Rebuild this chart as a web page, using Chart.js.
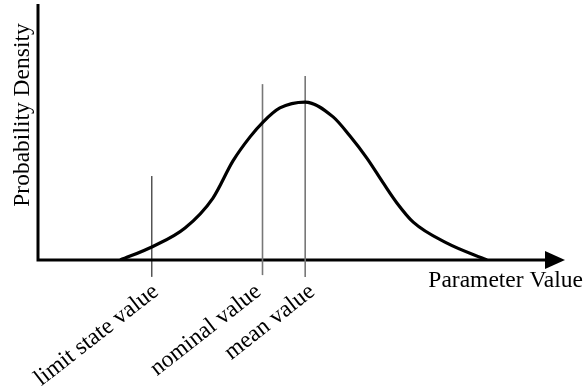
<!DOCTYPE html>
<html lang="en">
<head>
    <meta charset="UTF-8">
    <title>Probability Density</title>
    <script src="https://cdn.jsdelivr.net/npm/chart.js"></script>
</head>
<body style="margin:0;background:white;">
    <div style="width:587px;height:387px;position:relative;">
        <canvas id="chart_pdf"></canvas>
    </div>

    <script>
        // curve (parameter value, density), both on 0..100
        const curveX = [15.6, 21.6, 27.9, 33.2, 37.0, 40.2, 42.7, 45.9, 50.7, 56.0, 59.2, 62.4, 65.5, 68.1, 71.2, 77.6, 85.2];
        const curveY = [0, 5.1, 12.5, 24.2, 38.7, 48.0, 53.9, 59.4, 61.7, 55.9, 48.4, 39.8, 30.1, 22.3, 14.8, 6.6, 0];

        // marker lines: position, bottom, top
        const markerLabels = ['limit state value', 'nominal value', 'mean value'];
        const markerX = [21.6, 42.6, 50.7];
        const markerBottom = [-6.6, -5.9, -6.6];
        const markerTop = [32.8, 68.7, 71.9];
        const markerColors = ['#000000', '#777777', '#777777'];
        const markerWidths = [1, 1.6, 1.6];

        const xTitle = 'Parameter Value';
        const yTitle = 'Probability Density';
        const font = '23.5px "Liberation Serif", "Times New Roman", serif';
        const labelShift = [4, -4, 7]; // px, where each label ends relative to its line

        const datasets = [{
            data: curveX.map((x, i) => ({ x: x, y: curveY[i] })),
            borderColor: '#000',
            borderWidth: 3.2,
            cubicInterpolationMode: 'monotone',
            pointRadius: 0,
            fill: false
        }];
        markerX.forEach((x, i) => {
            datasets.push({
                data: [{ x: x, y: markerBottom[i] }, { x: x, y: markerTop[i] }],
                borderColor: markerColors[i],
                borderWidth: markerWidths[i],
                pointRadius: 0,
                clip: false,
                fill: false
            });
        });

        // axes with arrow, titles and rotated marker labels
        const decor = {
            id: 'decor',
            beforeDatasetsDraw(chart) {
                const ctx = chart.ctx;
                const xs = chart.scales.x, ys = chart.scales.y;
                const x0 = xs.getPixelForValue(0), x1 = xs.getPixelForValue(100);
                const y0 = ys.getPixelForValue(0), y1 = ys.getPixelForValue(100);
                ctx.save();
                ctx.strokeStyle = '#000';
                ctx.lineWidth = 3;
                ctx.beginPath();
                ctx.moveTo(x0, y1);
                ctx.lineTo(x0, y0);
                ctx.lineTo(x1 - 12, y0);
                ctx.stroke();
                ctx.fillStyle = '#000';
                ctx.beginPath();
                ctx.moveTo(x1, y0);
                ctx.lineTo(x1 - 20, y0 - 9);
                ctx.lineTo(x1 - 20, y0 + 9);
                ctx.closePath();
                ctx.fill();
                ctx.restore();
            },
            afterDatasetsDraw(chart) {
                const ctx = chart.ctx;
                const xs = chart.scales.x, ys = chart.scales.y;
                const y0 = ys.getPixelForValue(0);
                ctx.save();
                ctx.fillStyle = '#000';
                ctx.font = font;
                ctx.textAlign = 'right';
                ctx.textBaseline = 'alphabetic';
                ctx.fillText(xTitle, xs.getPixelForValue(100) + 18, y0 + 27);

                ctx.save();
                ctx.translate(29, (ys.getPixelForValue(0) + ys.getPixelForValue(100)) / 2 - 17);
                ctx.rotate(-Math.PI / 2);
                ctx.textAlign = 'center';
                ctx.fillText(yTitle, 0, 0);
                ctx.restore();

                markerLabels.forEach((t, i) => {
                    ctx.save();
                    ctx.translate(xs.getPixelForValue(markerX[i]) + labelShift[i], y0 + 29);
                    ctx.rotate(-38 * Math.PI / 180);
                    ctx.textAlign = 'right';
                    ctx.textBaseline = 'middle';
                    ctx.fillText(t, 0, 0);
                    ctx.restore();
                });
                ctx.restore();
            }
        };

        const ctx = document.getElementById('chart_pdf').getContext('2d');
        new Chart(ctx, {
            type: 'line',
            data: { datasets: datasets },
            options: {
                responsive: true,
                maintainAspectRatio: false,
                animation: false,
                layout: { padding: { left: 38, right: 22, top: 4, bottom: 127 } },
                plugins: { legend: { display: false }, tooltip: { enabled: false } },
                scales: {
                    x: { type: 'linear', min: 0, max: 100, display: false },
                    y: { type: 'linear', min: 0, max: 100, display: false }
                }
            },
            plugins: [decor]
        });
    </script>
</body>
</html>
